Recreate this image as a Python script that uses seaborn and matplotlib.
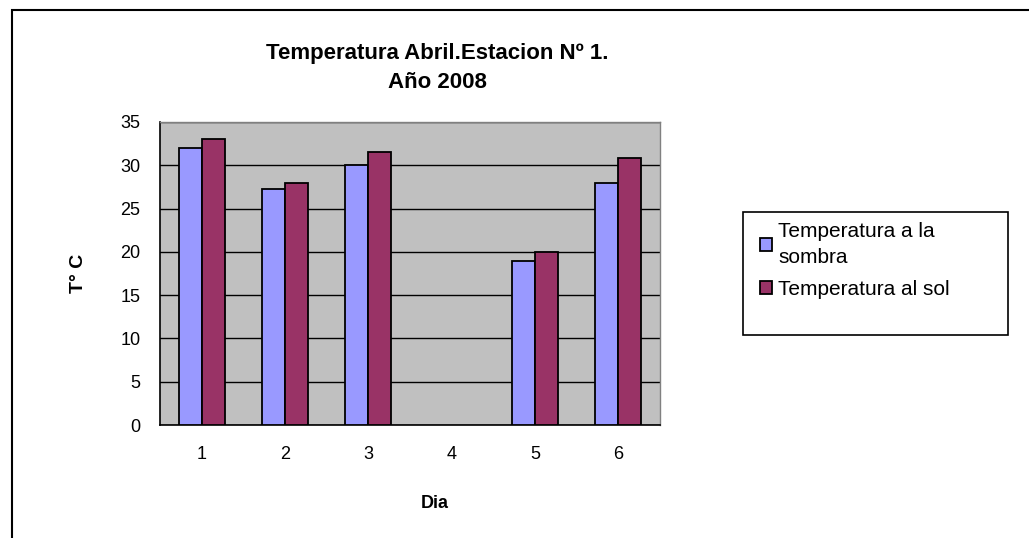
import numpy as np
import pandas as pd
import matplotlib
matplotlib.use("Agg")
import matplotlib.pyplot as plt
import matplotlib.patches as mpatches
import seaborn as sns

dias = ["1", "2", "3", "4", "5", "6"]
sombra = [32, 27.3, 30, np.nan, 19, 28]
sol = [33, 28, 31.5, np.nan, 20, 30.8]
series = ["Temperatura a la\nsombra", "Temperatura al sol"]
colores = ["#9999FF", "#993366"]

df = pd.DataFrame({
    "Dia": dias * 2,
    "Temp": sombra + sol,
    "Serie": [series[0]] * len(dias) + [series[1]] * len(dias),
}).dropna()

sns.set_style("white")
plt.rcParams["font.family"] = ["Liberation Sans", "DejaVu Sans"]
plt.rcParams["text.color"] = "black"
plt.rcParams["xtick.color"] = "black"
plt.rcParams["ytick.color"] = "black"
plt.rcParams["axes.labelcolor"] = "black"

fig = plt.figure(figsize=(10.29, 5.38), dpi=100)
ax = fig.add_axes([160 / 1029, 1 - 425 / 538, 500 / 1029, 303 / 538])

sns.barplot(data=df, x="Dia", y="Temp", hue="Serie", order=dias,
            hue_order=series, palette=colores, width=0.55, gap=0,
            edgecolor="black", linewidth=1.3, saturation=1, ax=ax)

ax.set_facecolor("#C0C0C0")
ax.set_ylim(0, 35)
ax.set_xlim(-0.5, 5.5)
ax.set_yticks(range(0, 36, 5))
ax.yaxis.grid(True, color="black", linewidth=1)
ax.set_axisbelow(True)
for b in ax.patches:
    b.set_zorder(3)

# x ticks at boundaries, labels at centres
ax.set_xticks(np.arange(-0.5, 6, 1))
ax.set_xticklabels([])
ax.set_xticks(range(6), minor=True)
ax.set_xticklabels(dias, minor=True, fontsize=13)
ax.tick_params(axis="x", which="minor", length=0, pad=15)
ax.tick_params(axis="x", which="major", length=5, width=1.2, direction="out")
ax.tick_params(axis="y", length=5, width=1.2, direction="out", labelsize=13, pad=9)

for s in ["left", "bottom"]:
    ax.spines[s].set_color("black")
    ax.spines[s].set_linewidth(1.2)
for s in ["top", "right"]:
    ax.spines[s].set_color("#808080")
    ax.spines[s].set_linewidth(1)

ax.set_xlabel("")
ax.set_ylabel("T° C", fontsize=14, fontweight="bold", labelpad=24)
fig.text(435 / 1029, 1 - 503 / 538, "Dia", ha="center", va="center",
         fontsize=13, fontweight="bold")

fig.text(437 / 1029, 1 - 68 / 538, "Temperatura Abril.Estacion Nº 1.\nAño 2008",
         ha="center", va="center", fontsize=16, fontweight="bold", linespacing=1.45)

# legend
handles, labels = ax.get_legend_handles_labels()
ax.get_legend().remove()
fig.patches.append(mpatches.Rectangle((743 / 1029, 1 - 335 / 538), 265 / 1029, 123 / 538,
                                      transform=fig.transFigure, fill=False,
                                      edgecolor="black", linewidth=1.2))
leg = fig.legend(handles, labels, loc="upper left", bbox_to_anchor=(745 / 1029, 1 - 207 / 538),
                 frameon=False, fontsize=15, handlelength=0.6, handleheight=0.6,
                 handletextpad=0.3, labelspacing=0.6, borderpad=0.2)
for t in leg.get_texts():
    t.set_linespacing(1.5)
    t.set_color("black")

# outer chart border
fig.patches.append(mpatches.Rectangle((12 / 1029, -0.05), 1.0, 1.05 - 10 / 538,
                                      transform=fig.transFigure, fill=False,
                                      edgecolor="black", linewidth=1.5))

fig.savefig("out.png", dpi=100)
